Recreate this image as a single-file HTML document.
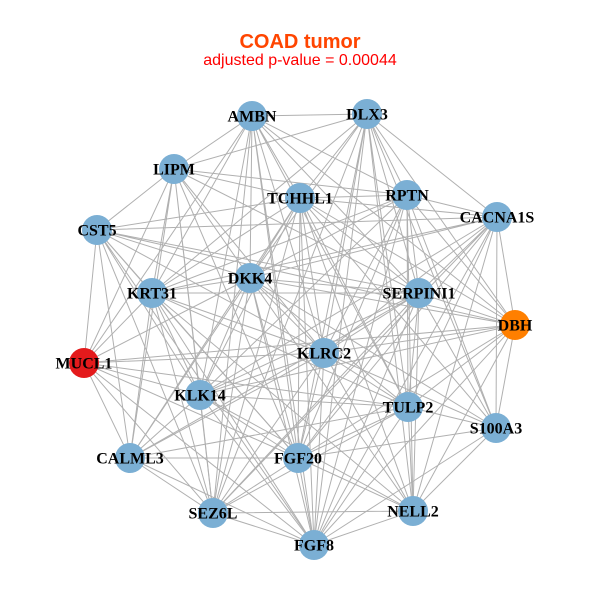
<!DOCTYPE html>
<html><head><meta charset="utf-8"><style>
html,body{margin:0;padding:0;background:#fff;}
svg{display:block;}
.e{stroke:#b0b0b0;stroke-width:1;fill:none;}
.n{font-family:"Liberation Serif",serif;font-weight:bold;font-size:16px;fill:#000;text-anchor:middle;}
</style></head><body>
<svg width="600" height="600" viewBox="0 0 600 600" xmlns="http://www.w3.org/2000/svg">
<rect width="600" height="600" fill="#fff"/>
<text x="300" y="48" text-anchor="middle" font-family="Liberation Sans,sans-serif" font-weight="bold" font-size="20" fill="#FF4500">COAD tumor</text>
<text x="300" y="65" text-anchor="middle" font-family="Liberation Sans,sans-serif" font-size="16" fill="#FF0000">adjusted p-value = 0.00044</text>
<g class="e">
<path d="M252 116L367 114M252 116L174 169M252 116L300 198M252 116L407 195M252 116L250 278M252 116L419 293M252 116L152 293M252 116L515 325M252 116L84 363M252 116L324 353M252 116L200 395M252 116L408 407M252 116L298 458M252 116L213 513M252 116L314 545"/>
<path d="M367 114L174 169M367 114L300 198M367 114L407 195M367 114L497 217M367 114L250 278M367 114L419 293M367 114L152 293M367 114L515 325M367 114L324 353M367 114L408 407M367 114L496 428M367 114L298 458M367 114L213 513M367 114L413 511M367 114L314 545"/>
<path d="M174 169L300 198M174 169L407 195M174 169L97 230M174 169L250 278M174 169L419 293M174 169L152 293M174 169L84 363M174 169L324 353M174 169L200 395M174 169L130 458M174 169L298 458M174 169L213 513"/>
<path d="M300 198L407 195M300 198L497 217M300 198L97 230M300 198L250 278M300 198L419 293M300 198L152 293M300 198L515 325M300 198L324 353M300 198L200 395M300 198L408 407M300 198L496 428M300 198L130 458M300 198L298 458M300 198L213 513M300 198L413 511M300 198L314 545"/>
<path d="M407 195L497 217M407 195L250 278M407 195L419 293M407 195L152 293M407 195L515 325M407 195L324 353M407 195L200 395M407 195L408 407M407 195L496 428M407 195L298 458M407 195L413 511M407 195L314 545"/>
<path d="M497 217L97 230M497 217L250 278M497 217L419 293M497 217L152 293M497 217L515 325M497 217L324 353M497 217L200 395M497 217L408 407M497 217L496 428M497 217L298 458M497 217L213 513M497 217L413 511M497 217L314 545"/>
<path d="M97 230L250 278M97 230L419 293M97 230L152 293M97 230L515 325M97 230L84 363M97 230L324 353M97 230L200 395M97 230L130 458M97 230L298 458M97 230L213 513M97 230L314 545"/>
<path d="M250 278L419 293M250 278L152 293M250 278L515 325M250 278L84 363M250 278L324 353M250 278L200 395M250 278L408 407M250 278L496 428M250 278L130 458M250 278L298 458M250 278L213 513M250 278L413 511M250 278L314 545"/>
<path d="M419 293L152 293M419 293L515 325M419 293L324 353M419 293L200 395M419 293L408 407M419 293L496 428M419 293L130 458M419 293L298 458M419 293L213 513M419 293L413 511M419 293L314 545"/>
<path d="M152 293L84 363M152 293L324 353M152 293L200 395M152 293L408 407M152 293L130 458M152 293L298 458M152 293L213 513M152 293L413 511M152 293L314 545"/>
<path d="M515 325L84 363M515 325L324 353M515 325L200 395M515 325L408 407M515 325L496 428M515 325L298 458M515 325L413 511M515 325L314 545"/>
<path d="M84 363L324 353M84 363L200 395M84 363L408 407M84 363L130 458M84 363L298 458M84 363L213 513M84 363L314 545"/>
<path d="M324 353L200 395M324 353L408 407M324 353L496 428M324 353L130 458M324 353L298 458M324 353L213 513M324 353L413 511M324 353L314 545"/>
<path d="M200 395L408 407M200 395L130 458M200 395L298 458M200 395L213 513M200 395L413 511M200 395L314 545"/>
<path d="M408 407L496 428M408 407L130 458M408 407L298 458M408 407L213 513M408 407L413 511M408 407L314 545"/>
<path d="M496 428L298 458M496 428L413 511M496 428L314 545"/>
<path d="M130 458L298 458M130 458L213 513M130 458L314 545"/>
<path d="M298 458L213 513M298 458L413 511M298 458L314 545"/>
<path d="M213 513L413 511M213 513L314 545M413 511L314 545"/>
</g>
<g fill="#7BAFD4">
<circle cx="252" cy="116" r="15"/>
<circle cx="367" cy="114" r="15"/>
<circle cx="174" cy="169" r="15"/>
<circle cx="300" cy="198" r="15"/>
<circle cx="407" cy="195" r="15"/>
<circle cx="497" cy="217" r="15"/>
<circle cx="97" cy="230" r="15"/>
<circle cx="250" cy="278" r="15"/>
<circle cx="419" cy="293" r="15"/>
<circle cx="152" cy="293" r="15"/>
<circle cx="515" cy="325" r="15" fill="#FF7F00"/>
<circle cx="84" cy="363" r="15" fill="#E41A1C"/>
<circle cx="324" cy="353" r="15"/>
<circle cx="200" cy="395" r="15"/>
<circle cx="408" cy="407" r="15"/>
<circle cx="496" cy="428" r="15"/>
<circle cx="130" cy="458" r="15"/>
<circle cx="298" cy="458" r="15"/>
<circle cx="213" cy="513" r="15"/>
<circle cx="413" cy="511" r="15"/>
<circle cx="314" cy="545" r="15"/>
</g>
<g class="n">
<text x="252" y="121.5">AMBN</text>
<text x="367" y="119.5">DLX3</text>
<text x="174" y="174.5">LIPM</text>
<text x="300" y="203.5">TCHHL1</text>
<text x="407" y="200.5">RPTN</text>
<text x="497" y="222.5">CACNA1S</text>
<text x="97" y="235.5">CST5</text>
<text x="250" y="283.5">DKK4</text>
<text x="419" y="298.5">SERPINI1</text>
<text x="152" y="298.5">KRT31</text>
<text x="515" y="330.5">DBH</text>
<text x="84" y="368.5">MUCL1</text>
<text x="324" y="358.5">KLRC2</text>
<text x="200" y="400.5">KLK14</text>
<text x="408" y="412.5">TULP2</text>
<text x="496" y="433.5">S100A3</text>
<text x="130" y="463.5">CALML3</text>
<text x="298" y="463.5">FGF20</text>
<text x="213" y="518.5">SEZ6L</text>
<text x="413" y="516.5">NELL2</text>
<text x="314" y="550.5">FGF8</text>
</g>
</svg>
</body></html>
